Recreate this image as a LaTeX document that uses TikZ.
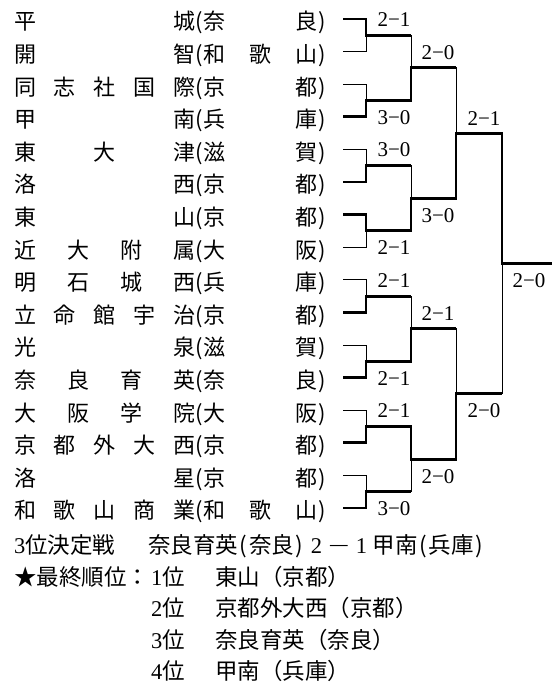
\documentclass[tikz,border=0pt]{standalone}
\usepackage{fontspec}
\newfontfamily\jpfont{Noto Sans CJK JP}
\newfontfamily\numfont{Liberation Serif}
\newcommand\tmrow[2]{\hbox to 181pt{#1}\hbox to 8pt{\hss(\hss}\hbox to 114pt{#2}\hbox to 11pt{\hss)\hss}}
\newcommand\dg[1]{{\numfont #1}}
\newcommand\hw[1]{\hbox to 11pt{\hss#1\hss}}
\newcommand\fw[1]{\hbox to 22.5pt{\hss#1\hss}}
\begin{document}
\begin{tikzpicture}[x=1pt,y=-1pt,
  thinln/.style={line width=0.9pt,line join=miter},
  thickln/.style={line width=2.9pt,line join=miter},
  teamtxt/.style={anchor=base west,inner sep=0pt,font=\jpfont\fontsize{22}{22}\selectfont},
  score/.style={anchor=base,inner sep=0pt,font=\numfont\fontsize{21}{21}\selectfont},
  btxt/.style={anchor=base west,inner sep=0pt,font=\jpfont\fontsize{22.5}{22.5}\selectfont}]
\useasboundingbox (0,0) rectangle (552,684);
% team stub starts
\coordinate (t1) at (343,19.0);
\coordinate (t2) at (343,51.6);
\coordinate (t3) at (343,84.2);
\coordinate (t4) at (343,116.8);
\coordinate (t5) at (343,149.4);
\coordinate (t6) at (343,182.0);
\coordinate (t7) at (343,214.6);
\coordinate (t8) at (343,247.2);
\coordinate (t9) at (343,279.8);
\coordinate (t10) at (343,312.4);
\coordinate (t11) at (343,345.0);
\coordinate (t12) at (343,377.6);
\coordinate (t13) at (343,410.2);
\coordinate (t14) at (343,442.8);
\coordinate (t15) at (343,475.4);
\coordinate (t16) at (343,508.0);
% match points
\coordinate (m1) at (366,35.3);
\coordinate (m2) at (366,100.5);
\coordinate (m3) at (366,165.7);
\coordinate (m4) at (366,230.9);
\coordinate (m5) at (366,296.1);
\coordinate (m6) at (366,361.3);
\coordinate (m7) at (366,426.5);
\coordinate (m8) at (366,491.7);
\coordinate (q1) at (411,67.9);
\coordinate (q2) at (411,198.3);
\coordinate (q3) at (411,328.7);
\coordinate (q4) at (411,459.1);
\coordinate (s1) at (456,133.1);
\coordinate (s2) at (456,393.9);
\coordinate (f) at (502,263.5);
\coordinate (fend) at (552,263.5);
% thin skeleton
\foreach \t/\m in {t1/m1,t2/m1,t3/m2,t4/m2,t5/m3,t6/m3,t7/m4,t8/m4,t9/m5,t10/m5,t11/m6,t12/m6,t13/m7,t14/m7,t15/m8,t16/m8}
  \draw[thinln] (\t) -| (\m);
\foreach \m/\q in {m1/q1,m2/q1,m3/q2,m4/q2,m5/q3,m6/q3,m7/q4,m8/q4}
  \draw[thinln] (\m) -| (\q);
\foreach \q/\s in {q1/s1,q2/s1,q3/s2,q4/s2}
  \draw[thinln] (\q) -| (\s);
\draw[thinln] (s1) -| (f);
\draw[thinln] (s2) -| (f);
\draw[thinln] (f) -- (fend);
% winners
\draw[thickln] (t1) -| (m1) -- (q1 |- m1);
\draw[thickln] (t4) -| (m2) -| (q1) -- (s1 |- q1);
\draw[thickln] (t6) -| (m3) -- (q2 |- m3);
\draw[thickln] (t7) -| (m4) -| (q2) -| (s1) -| (f) -- (fend);
\draw[thickln] (t10) -| (m5) -- (q3 |- m5);
\draw[thickln] (t12) -| (m6) -| (q3) -- (s2 |- q3);
\draw[thickln] (t14) -| (m7) -| (q4) -| (s2) -- (f |- s2);
\draw[thickln] (t16) -| (m8) -- (q4 |- m8);
% team names
\node[teamtxt] (n1) at (14,29.9) {\tmrow{平\hfill 城}{奈\hfill 良}};
\node[teamtxt] (n2) at (14,62.5) {\tmrow{開\hfill 智}{和\hfill 歌\hfill 山}};
\node[teamtxt] (n3) at (14,95.1) {\tmrow{同\hfill 志\hfill 社\hfill 国\hfill 際}{京\hfill 都}};
\node[teamtxt] (n4) at (14,127.7) {\tmrow{甲\hfill 南}{兵\hfill 庫}};
\node[teamtxt] (n5) at (14,160.3) {\tmrow{東\hfill 大\hfill 津}{滋\hfill 賀}};
\node[teamtxt] (n6) at (14,192.9) {\tmrow{洛\hfill 西}{京\hfill 都}};
\node[teamtxt] (n7) at (14,225.5) {\tmrow{東\hfill 山}{京\hfill 都}};
\node[teamtxt] (n8) at (14,258.1) {\tmrow{近\hfill 大\hfill 附\hfill 属}{大\hfill 阪}};
\node[teamtxt] (n9) at (14,290.7) {\tmrow{明\hfill 石\hfill 城\hfill 西}{兵\hfill 庫}};
\node[teamtxt] (n10) at (14,323.3) {\tmrow{立\hfill 命\hfill 館\hfill 宇\hfill 治}{京\hfill 都}};
\node[teamtxt] (n11) at (14,355.9) {\tmrow{光\hfill 泉}{滋\hfill 賀}};
\node[teamtxt] (n12) at (14,388.5) {\tmrow{奈\hfill 良\hfill 育\hfill 英}{奈\hfill 良}};
\node[teamtxt] (n13) at (14,421.1) {\tmrow{大\hfill 阪\hfill 学\hfill 院}{大\hfill 阪}};
\node[teamtxt] (n14) at (14,453.7) {\tmrow{京\hfill 都\hfill 外\hfill 大\hfill 西}{京\hfill 都}};
\node[teamtxt] (n15) at (14,486.3) {\tmrow{洛\hfill 星}{京\hfill 都}};
\node[teamtxt] (n16) at (14,518.9) {\tmrow{和\hfill 歌\hfill 山\hfill 商\hfill 業}{和\hfill 歌\hfill 山}};
% scores
\node[score] (sc1) at (394,26.6) {2−1};
\node[score] (sc2) at (394,124.4) {3−0};
\node[score] (sc3) at (394,157.0) {3−0};
\node[score] (sc4) at (394,254.8) {2−1};
\node[score] (sc5) at (394,287.4) {2−1};
\node[score] (sc6) at (394,385.2) {2−1};
\node[score] (sc7) at (394,417.8) {2−1};
\node[score] (sc8) at (394,515.6) {3−0};
\node[score] (sq1) at (438,59.2) {2−0};
\node[score] (sq2) at (438,222.2) {3−0};
\node[score] (sq3) at (438,320.0) {2−1};
\node[score] (sq4) at (438,483.0) {2−0};
\node[score] (ss1) at (484,125.2) {2−1};
\node[score] (ss2) at (484,417.8) {2−0};
\node[score] (sf) at (529,287.4) {2−0};
% bottom text
\node[btxt] (b1) at (14,553.5) {\hw{\dg{3}}位決定戦\kern33pt 奈良育英\hw{(}奈良\hw{)}\fw{\dg{2}}\fw{\scalebox{1.7}[1]{\numfont −}}\fw{\dg{1}}甲南\hw{(}兵庫\hw{)}};
\node[btxt] (b2) at (14,585.0) {★最終順位：};
\node[btxt] (r1) at (151,585.0) {\hw{\dg{1}}位};
\node[btxt] (w1) at (215,585.0) {東山（京都）};
\node[btxt] (r2) at (151,616.5) {\hw{\dg{2}}位};
\node[btxt] (w2) at (215,616.5) {京都外大西（京都）};
\node[btxt] (r3) at (151,648.0) {\hw{\dg{3}}位};
\node[btxt] (w3) at (215,648.0) {奈良育英（奈良）};
\node[btxt] (r4) at (151,679.0) {\hw{\dg{4}}位};
\node[btxt] (w4) at (215,679.0) {甲南（兵庫）};
\end{tikzpicture}
\end{document}
